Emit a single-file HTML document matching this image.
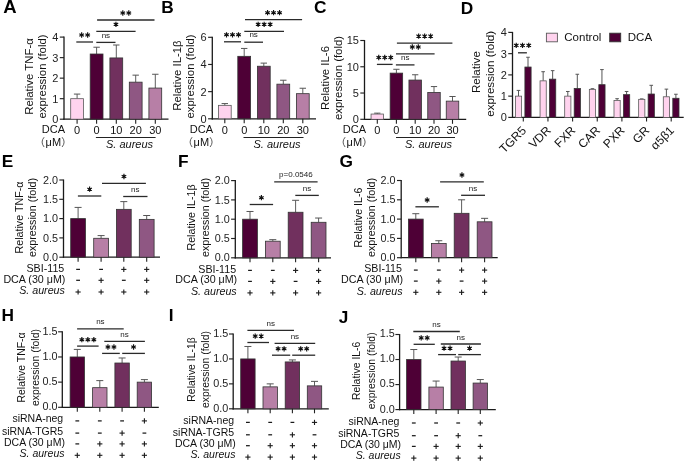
<!DOCTYPE html>
<html><head><meta charset="utf-8"><style>
html,body{margin:0;padding:0;background:#fff;width:685px;height:463px;overflow:hidden}
svg{display:block;font-family:"Liberation Sans",sans-serif;will-change:transform}
</style></head><body>
<svg width="685" height="463" viewBox="0 0 685 463">
<rect width="685" height="463" fill="#fff"/>
<text x="3.2" y="12.9" font-size="18.5" text-anchor="start" font-weight="bold" font-style="normal" fill="#000" >A</text>
<line x1="64" y1="36.6" x2="64" y2="119.8" stroke="#1a1a1a" stroke-width="1.3"/>
<line x1="63.4" y1="119.2" x2="168.5" y2="119.2" stroke="#1a1a1a" stroke-width="1.3"/>
<line x1="59.8" y1="119.2" x2="64" y2="119.2" stroke="#222" stroke-width="1.15"/>
<text x="58.4" y="123.15" font-size="11" text-anchor="end" font-weight="normal" font-style="normal" fill="#222" >0</text>
<line x1="59.8" y1="98.68" x2="64" y2="98.68" stroke="#222" stroke-width="1.15"/>
<text x="58.4" y="102.63" font-size="11" text-anchor="end" font-weight="normal" font-style="normal" fill="#222" >1</text>
<line x1="59.8" y1="78.15" x2="64" y2="78.15" stroke="#222" stroke-width="1.15"/>
<text x="58.4" y="82.1" font-size="11" text-anchor="end" font-weight="normal" font-style="normal" fill="#222" >2</text>
<line x1="59.8" y1="57.63" x2="64" y2="57.63" stroke="#222" stroke-width="1.15"/>
<text x="58.4" y="61.58" font-size="11" text-anchor="end" font-weight="normal" font-style="normal" fill="#222" >3</text>
<line x1="59.8" y1="37.1" x2="64" y2="37.1" stroke="#222" stroke-width="1.15"/>
<text x="58.4" y="41.05" font-size="11" text-anchor="end" font-weight="normal" font-style="normal" fill="#222" >4</text>
<line x1="77.1" y1="98.68" x2="77.1" y2="94.08" stroke="#555" stroke-width="0.95"/>
<line x1="73.9" y1="94.08" x2="80.3" y2="94.08" stroke="#555" stroke-width="1.0"/>
<rect x="70.7" y="98.68" width="12.8" height="20.52" fill="#FFD3EE" stroke="#5a5a5a" stroke-width="0.8"/>
<line x1="77.1" y1="119.2" x2="77.1" y2="123.7" stroke="#222" stroke-width="1.1"/>
<line x1="96.6" y1="54.01" x2="96.6" y2="47.22" stroke="#555" stroke-width="0.95"/>
<line x1="93.4" y1="47.22" x2="99.8" y2="47.22" stroke="#555" stroke-width="1.0"/>
<rect x="90.2" y="54.01" width="12.8" height="65.19" fill="#4E0036" stroke="#333" stroke-width="0.8"/>
<line x1="96.6" y1="119.2" x2="96.6" y2="123.7" stroke="#222" stroke-width="1.1"/>
<line x1="116.3" y1="57.93" x2="116.3" y2="45" stroke="#555" stroke-width="0.95"/>
<line x1="113.1" y1="45" x2="119.5" y2="45" stroke="#555" stroke-width="1.0"/>
<rect x="109.9" y="57.93" width="12.8" height="61.27" fill="#71305E" stroke="#333" stroke-width="0.8"/>
<line x1="116.3" y1="119.2" x2="116.3" y2="123.7" stroke="#222" stroke-width="1.1"/>
<line x1="135.7" y1="82.15" x2="135.7" y2="75.15" stroke="#555" stroke-width="0.95"/>
<line x1="132.5" y1="75.15" x2="138.9" y2="75.15" stroke="#555" stroke-width="1.0"/>
<rect x="129.3" y="82.15" width="12.8" height="37.05" fill="#8F5783" stroke="#333" stroke-width="0.8"/>
<line x1="135.7" y1="119.2" x2="135.7" y2="123.7" stroke="#222" stroke-width="1.1"/>
<line x1="155.3" y1="88.06" x2="155.3" y2="74.25" stroke="#555" stroke-width="0.95"/>
<line x1="152.1" y1="74.25" x2="158.5" y2="74.25" stroke="#555" stroke-width="1.0"/>
<rect x="148.9" y="88.06" width="12.8" height="31.14" fill="#B77FA6" stroke="#333" stroke-width="0.8"/>
<line x1="155.3" y1="119.2" x2="155.3" y2="123.7" stroke="#222" stroke-width="1.1"/>
<text transform="translate(32.6,76.5) rotate(-90)" x="0" y="0" font-size="11.4" text-anchor="middle" fill="#111">Relative TNF-α</text>
<text transform="translate(46.4,76.5) rotate(-90)" x="0" y="0" font-size="11.4" text-anchor="middle" fill="#111">expression (fold)</text>
<text x="65" y="133.3" font-size="11" text-anchor="end" font-weight="normal" font-style="normal" fill="#111" >DCA</text>
<text x="77.1" y="134" font-size="11" text-anchor="middle" font-weight="normal" font-style="normal" fill="#111" >0</text>
<text x="96.6" y="134" font-size="11" text-anchor="middle" font-weight="normal" font-style="normal" fill="#111" >0</text>
<text x="116.3" y="134" font-size="11" text-anchor="middle" font-weight="normal" font-style="normal" fill="#111" >10</text>
<text x="135.7" y="134" font-size="11" text-anchor="middle" font-weight="normal" font-style="normal" fill="#111" >20</text>
<text x="155.3" y="134" font-size="11" text-anchor="middle" font-weight="normal" font-style="normal" fill="#111" >30</text>
<line x1="95.9" y1="137.5" x2="155.6" y2="137.5" stroke="#222" stroke-width="1.1"/>
<text x="129.5" y="147.6" font-size="11" text-anchor="middle" font-weight="normal" font-style="italic" fill="#111" >S. aureus</text>
<path d="M44.1,137.2 Q40.1,142 44.1,147" fill="none" stroke="#333" stroke-width="0.8"/>
<path d="M62.1,137.2 Q66.1,142 62.1,147" fill="none" stroke="#333" stroke-width="0.8"/>
<text x="45.6" y="146" font-size="11" text-anchor="start" font-weight="normal" font-style="normal" fill="#111" >μM</text>
<line x1="76.3" y1="42" x2="93" y2="42" stroke="#2a2a2a" stroke-width="1.3"/>
<path d="M81.65,32.35V37.65M79.36,33.67L83.94,36.33M79.36,36.33L83.94,33.67" stroke="#111" stroke-width="1.15" fill="none"/>
<circle cx="81.65" cy="35" r="1.2" fill="#111"/>
<path d="M87.65,32.35V37.65M85.36,33.67L89.94,36.33M85.36,36.33L89.94,33.67" stroke="#111" stroke-width="1.15" fill="none"/>
<circle cx="87.65" cy="35" r="1.2" fill="#111"/>
<line x1="96.3" y1="42.4" x2="115.5" y2="42.4" stroke="#2a2a2a" stroke-width="1.3"/>
<text x="105.9" y="37.5" font-size="8.0" text-anchor="middle" font-weight="normal" font-style="normal" fill="#222" >ns</text>
<line x1="96.3" y1="31.3" x2="135.6" y2="31.3" stroke="#2a2a2a" stroke-width="1.3"/>
<path d="M115.95,21.65V26.95M113.66,22.98L118.24,25.62M113.66,25.62L118.24,22.98" stroke="#111" stroke-width="1.15" fill="none"/>
<circle cx="115.95" cy="24.3" r="1.2" fill="#111"/>
<line x1="97.1" y1="20" x2="154.5" y2="20" stroke="#2a2a2a" stroke-width="1.3"/>
<path d="M122.8,10.35V15.65M120.51,11.68L125.09,14.32M120.51,14.32L125.09,11.68" stroke="#111" stroke-width="1.15" fill="none"/>
<circle cx="122.8" cy="13" r="1.2" fill="#111"/>
<path d="M128.8,10.35V15.65M126.51,11.68L131.09,14.32M126.51,14.32L131.09,11.68" stroke="#111" stroke-width="1.15" fill="none"/>
<circle cx="128.8" cy="13" r="1.2" fill="#111"/>
<text x="161.2" y="12.9" font-size="17.3" text-anchor="start" font-weight="bold" font-style="normal" fill="#000" >B</text>
<line x1="212.3" y1="36.8" x2="212.3" y2="119.4" stroke="#1a1a1a" stroke-width="1.3"/>
<line x1="211.7" y1="118.8" x2="316" y2="118.8" stroke="#1a1a1a" stroke-width="1.3"/>
<line x1="208.1" y1="118.8" x2="212.3" y2="118.8" stroke="#222" stroke-width="1.15"/>
<text x="206.7" y="122.75" font-size="11" text-anchor="end" font-weight="normal" font-style="normal" fill="#222" >0</text>
<line x1="208.1" y1="91.63" x2="212.3" y2="91.63" stroke="#222" stroke-width="1.15"/>
<text x="206.7" y="95.58" font-size="11" text-anchor="end" font-weight="normal" font-style="normal" fill="#222" >2</text>
<line x1="208.1" y1="64.47" x2="212.3" y2="64.47" stroke="#222" stroke-width="1.15"/>
<text x="206.7" y="68.42" font-size="11" text-anchor="end" font-weight="normal" font-style="normal" fill="#222" >4</text>
<line x1="208.1" y1="37.3" x2="212.3" y2="37.3" stroke="#222" stroke-width="1.15"/>
<text x="206.7" y="41.25" font-size="11" text-anchor="end" font-weight="normal" font-style="normal" fill="#222" >6</text>
<line x1="224.8" y1="105.35" x2="224.8" y2="103.59" stroke="#555" stroke-width="0.95"/>
<line x1="221.6" y1="103.59" x2="228" y2="103.59" stroke="#555" stroke-width="1.0"/>
<rect x="218.4" y="105.35" width="12.8" height="13.45" fill="#FFD3EE" stroke="#5a5a5a" stroke-width="0.8"/>
<line x1="224.8" y1="118.8" x2="224.8" y2="123.3" stroke="#222" stroke-width="1.1"/>
<line x1="244.2" y1="56.32" x2="244.2" y2="48.44" stroke="#555" stroke-width="0.95"/>
<line x1="241" y1="48.44" x2="247.4" y2="48.44" stroke="#555" stroke-width="1.0"/>
<rect x="237.8" y="56.32" width="12.8" height="62.48" fill="#4E0036" stroke="#333" stroke-width="0.8"/>
<line x1="244.2" y1="118.8" x2="244.2" y2="123.3" stroke="#222" stroke-width="1.1"/>
<line x1="263.8" y1="66.23" x2="263.8" y2="63.11" stroke="#555" stroke-width="0.95"/>
<line x1="260.6" y1="63.11" x2="267" y2="63.11" stroke="#555" stroke-width="1.0"/>
<rect x="257.4" y="66.23" width="12.8" height="52.57" fill="#71305E" stroke="#333" stroke-width="0.8"/>
<line x1="263.8" y1="118.8" x2="263.8" y2="123.3" stroke="#222" stroke-width="1.1"/>
<line x1="283.3" y1="84.16" x2="283.3" y2="80.22" stroke="#555" stroke-width="0.95"/>
<line x1="280.1" y1="80.22" x2="286.5" y2="80.22" stroke="#555" stroke-width="1.0"/>
<rect x="276.9" y="84.16" width="12.8" height="34.64" fill="#8F5783" stroke="#333" stroke-width="0.8"/>
<line x1="283.3" y1="118.8" x2="283.3" y2="123.3" stroke="#222" stroke-width="1.1"/>
<line x1="302.8" y1="93.67" x2="302.8" y2="88.24" stroke="#555" stroke-width="0.95"/>
<line x1="299.6" y1="88.24" x2="306" y2="88.24" stroke="#555" stroke-width="1.0"/>
<rect x="296.4" y="93.67" width="12.8" height="25.13" fill="#B77FA6" stroke="#333" stroke-width="0.8"/>
<line x1="302.8" y1="118.8" x2="302.8" y2="123.3" stroke="#222" stroke-width="1.1"/>
<text transform="translate(180.5,75.6) rotate(-90)" x="0" y="0" font-size="11.4" text-anchor="middle" fill="#111">Relative IL-1β</text>
<text transform="translate(194.3,76.5) rotate(-90)" x="0" y="0" font-size="11.4" text-anchor="middle" fill="#111">expression (fold)</text>
<text x="213" y="133.3" font-size="11" text-anchor="end" font-weight="normal" font-style="normal" fill="#111" >DCA</text>
<text x="224.8" y="134" font-size="11" text-anchor="middle" font-weight="normal" font-style="normal" fill="#111" >0</text>
<text x="244.2" y="134" font-size="11" text-anchor="middle" font-weight="normal" font-style="normal" fill="#111" >0</text>
<text x="263.8" y="134" font-size="11" text-anchor="middle" font-weight="normal" font-style="normal" fill="#111" >10</text>
<text x="283.3" y="134" font-size="11" text-anchor="middle" font-weight="normal" font-style="normal" fill="#111" >20</text>
<text x="302.8" y="134" font-size="11" text-anchor="middle" font-weight="normal" font-style="normal" fill="#111" >30</text>
<line x1="243.5" y1="137.5" x2="303.5" y2="137.5" stroke="#222" stroke-width="1.1"/>
<text x="277" y="147.6" font-size="11" text-anchor="middle" font-weight="normal" font-style="italic" fill="#111" >S. aureus</text>
<path d="M192.1,137.2 Q188.1,142 192.1,147" fill="none" stroke="#333" stroke-width="0.8"/>
<path d="M210.1,137.2 Q214.1,142 210.1,147" fill="none" stroke="#333" stroke-width="0.8"/>
<text x="193.6" y="146" font-size="11" text-anchor="start" font-weight="normal" font-style="normal" fill="#111" >μM</text>
<line x1="224" y1="41.8" x2="241" y2="41.8" stroke="#2a2a2a" stroke-width="1.3"/>
<path d="M226.5,32.15V37.45M224.21,33.47L228.79,36.12M224.21,36.12L228.79,33.47" stroke="#111" stroke-width="1.15" fill="none"/>
<circle cx="226.5" cy="34.8" r="1.2" fill="#111"/>
<path d="M232.5,32.15V37.45M230.21,33.47L234.79,36.12M230.21,36.12L234.79,33.47" stroke="#111" stroke-width="1.15" fill="none"/>
<circle cx="232.5" cy="34.8" r="1.2" fill="#111"/>
<path d="M238.5,32.15V37.45M236.21,33.47L240.79,36.12M236.21,36.12L240.79,33.47" stroke="#111" stroke-width="1.15" fill="none"/>
<circle cx="238.5" cy="34.8" r="1.2" fill="#111"/>
<line x1="244.3" y1="42.2" x2="263" y2="42.2" stroke="#2a2a2a" stroke-width="1.3"/>
<text x="253.65" y="37.3" font-size="8.0" text-anchor="middle" font-weight="normal" font-style="normal" fill="#222" >ns</text>
<line x1="244.3" y1="31.3" x2="284" y2="31.3" stroke="#2a2a2a" stroke-width="1.3"/>
<path d="M258.15,21.65V26.95M255.86,22.98L260.44,25.62M255.86,25.62L260.44,22.98" stroke="#111" stroke-width="1.15" fill="none"/>
<circle cx="258.15" cy="24.3" r="1.2" fill="#111"/>
<path d="M264.15,21.65V26.95M261.86,22.98L266.44,25.62M261.86,25.62L266.44,22.98" stroke="#111" stroke-width="1.15" fill="none"/>
<circle cx="264.15" cy="24.3" r="1.2" fill="#111"/>
<path d="M270.15,21.65V26.95M267.86,22.98L272.44,25.62M267.86,25.62L272.44,22.98" stroke="#111" stroke-width="1.15" fill="none"/>
<circle cx="270.15" cy="24.3" r="1.2" fill="#111"/>
<line x1="245" y1="19.7" x2="302.1" y2="19.7" stroke="#2a2a2a" stroke-width="1.3"/>
<path d="M267.55,10.05V15.35M265.26,11.38L269.84,14.02M265.26,14.02L269.84,11.38" stroke="#111" stroke-width="1.15" fill="none"/>
<circle cx="267.55" cy="12.7" r="1.2" fill="#111"/>
<path d="M273.55,10.05V15.35M271.26,11.38L275.84,14.02M271.26,14.02L275.84,11.38" stroke="#111" stroke-width="1.15" fill="none"/>
<circle cx="273.55" cy="12.7" r="1.2" fill="#111"/>
<path d="M279.55,10.05V15.35M277.26,11.38L281.84,14.02M277.26,14.02L281.84,11.38" stroke="#111" stroke-width="1.15" fill="none"/>
<circle cx="279.55" cy="12.7" r="1.2" fill="#111"/>
<text x="313.9" y="13.3" font-size="17.3" text-anchor="start" font-weight="bold" font-style="normal" fill="#000" >C</text>
<line x1="364.5" y1="40" x2="364.5" y2="119.9" stroke="#1a1a1a" stroke-width="1.3"/>
<line x1="363.9" y1="119.3" x2="466.2" y2="119.3" stroke="#1a1a1a" stroke-width="1.3"/>
<line x1="360.3" y1="119.3" x2="364.5" y2="119.3" stroke="#222" stroke-width="1.15"/>
<text x="358.9" y="123.25" font-size="11" text-anchor="end" font-weight="normal" font-style="normal" fill="#222" >0</text>
<line x1="360.3" y1="93.03" x2="364.5" y2="93.03" stroke="#222" stroke-width="1.15"/>
<text x="358.9" y="96.98" font-size="11" text-anchor="end" font-weight="normal" font-style="normal" fill="#222" >5</text>
<line x1="360.3" y1="66.77" x2="364.5" y2="66.77" stroke="#222" stroke-width="1.15"/>
<text x="358.9" y="70.72" font-size="11" text-anchor="end" font-weight="normal" font-style="normal" fill="#222" >10</text>
<line x1="360.3" y1="40.5" x2="364.5" y2="40.5" stroke="#222" stroke-width="1.15"/>
<text x="358.9" y="44.45" font-size="11" text-anchor="end" font-weight="normal" font-style="normal" fill="#222" >15</text>
<line x1="377.3" y1="114.05" x2="377.3" y2="113.15" stroke="#555" stroke-width="0.95"/>
<line x1="374.18" y1="113.15" x2="380.43" y2="113.15" stroke="#555" stroke-width="1.0"/>
<rect x="371.05" y="114.05" width="12.5" height="5.25" fill="#FFD3EE" stroke="#5a5a5a" stroke-width="0.8"/>
<line x1="377.3" y1="119.3" x2="377.3" y2="123.8" stroke="#222" stroke-width="1.1"/>
<line x1="396.4" y1="73.12" x2="396.4" y2="69.29" stroke="#555" stroke-width="0.95"/>
<line x1="393.27" y1="69.29" x2="399.52" y2="69.29" stroke="#555" stroke-width="1.0"/>
<rect x="390.15" y="73.12" width="12.5" height="46.18" fill="#4E0036" stroke="#333" stroke-width="0.8"/>
<line x1="396.4" y1="119.3" x2="396.4" y2="123.8" stroke="#222" stroke-width="1.1"/>
<line x1="415.2" y1="80.06" x2="415.2" y2="74.75" stroke="#555" stroke-width="0.95"/>
<line x1="412.07" y1="74.75" x2="418.32" y2="74.75" stroke="#555" stroke-width="1.0"/>
<rect x="408.95" y="80.06" width="12.5" height="39.24" fill="#71305E" stroke="#333" stroke-width="0.8"/>
<line x1="415.2" y1="119.3" x2="415.2" y2="123.8" stroke="#222" stroke-width="1.1"/>
<line x1="434" y1="92.4" x2="434" y2="86.57" stroke="#555" stroke-width="0.95"/>
<line x1="430.88" y1="86.57" x2="437.12" y2="86.57" stroke="#555" stroke-width="1.0"/>
<rect x="427.75" y="92.4" width="12.5" height="26.9" fill="#8F5783" stroke="#333" stroke-width="0.8"/>
<line x1="434" y1="119.3" x2="434" y2="123.8" stroke="#222" stroke-width="1.1"/>
<line x1="452.5" y1="101.12" x2="452.5" y2="96.5" stroke="#555" stroke-width="0.95"/>
<line x1="449.38" y1="96.5" x2="455.62" y2="96.5" stroke="#555" stroke-width="1.0"/>
<rect x="446.25" y="101.12" width="12.5" height="18.18" fill="#B77FA6" stroke="#333" stroke-width="0.8"/>
<line x1="452.5" y1="119.3" x2="452.5" y2="123.8" stroke="#222" stroke-width="1.1"/>
<text transform="translate(328.8,78) rotate(-90)" x="0" y="0" font-size="11.4" text-anchor="middle" fill="#111">Relative IL-6</text>
<text transform="translate(341.7,78) rotate(-90)" x="0" y="0" font-size="11.4" text-anchor="middle" fill="#111">expression (fold)</text>
<text x="366" y="133.3" font-size="11" text-anchor="end" font-weight="normal" font-style="normal" fill="#111" >DCA</text>
<text x="377.3" y="134" font-size="11" text-anchor="middle" font-weight="normal" font-style="normal" fill="#111" >0</text>
<text x="396.4" y="134" font-size="11" text-anchor="middle" font-weight="normal" font-style="normal" fill="#111" >0</text>
<text x="415.2" y="134" font-size="11" text-anchor="middle" font-weight="normal" font-style="normal" fill="#111" >10</text>
<text x="434" y="134" font-size="11" text-anchor="middle" font-weight="normal" font-style="normal" fill="#111" >20</text>
<text x="452.5" y="134" font-size="11" text-anchor="middle" font-weight="normal" font-style="normal" fill="#111" >30</text>
<line x1="396" y1="137.5" x2="455" y2="137.5" stroke="#222" stroke-width="1.1"/>
<text x="428.5" y="147.6" font-size="11" text-anchor="middle" font-weight="normal" font-style="italic" fill="#111" >S. aureus</text>
<path d="M345.1,137.2 Q341.1,142 345.1,147" fill="none" stroke="#333" stroke-width="0.8"/>
<path d="M363.1,137.2 Q367.1,142 363.1,147" fill="none" stroke="#333" stroke-width="0.8"/>
<text x="346.6" y="146" font-size="11" text-anchor="start" font-weight="normal" font-style="normal" fill="#111" >μM</text>
<line x1="376.9" y1="64.4" x2="392.6" y2="64.4" stroke="#2a2a2a" stroke-width="1.3"/>
<path d="M378.75,54.85V60.15M376.46,56.17L381.04,58.83M376.46,58.83L381.04,56.17" stroke="#111" stroke-width="1.15" fill="none"/>
<circle cx="378.75" cy="57.5" r="1.2" fill="#111"/>
<path d="M384.75,54.85V60.15M382.46,56.17L387.04,58.83M382.46,58.83L387.04,56.17" stroke="#111" stroke-width="1.15" fill="none"/>
<circle cx="384.75" cy="57.5" r="1.2" fill="#111"/>
<path d="M390.75,54.85V60.15M388.46,56.17L393.04,58.83M388.46,58.83L393.04,56.17" stroke="#111" stroke-width="1.15" fill="none"/>
<circle cx="390.75" cy="57.5" r="1.2" fill="#111"/>
<line x1="395.9" y1="64.9" x2="414.5" y2="64.9" stroke="#2a2a2a" stroke-width="1.3"/>
<text x="405.2" y="60" font-size="8.0" text-anchor="middle" font-weight="normal" font-style="normal" fill="#222" >ns</text>
<line x1="396" y1="53.8" x2="434.6" y2="53.8" stroke="#2a2a2a" stroke-width="1.3"/>
<path d="M412.3,44.35V49.65M410.01,45.67L414.59,48.33M410.01,48.33L414.59,45.67" stroke="#111" stroke-width="1.15" fill="none"/>
<circle cx="412.3" cy="47" r="1.2" fill="#111"/>
<path d="M418.3,44.35V49.65M416.01,45.67L420.59,48.33M416.01,48.33L420.59,45.67" stroke="#111" stroke-width="1.15" fill="none"/>
<circle cx="418.3" cy="47" r="1.2" fill="#111"/>
<line x1="396.9" y1="43.2" x2="452.4" y2="43.2" stroke="#2a2a2a" stroke-width="1.3"/>
<path d="M418.65,33.45V38.75M416.36,34.77L420.94,37.43M416.36,37.43L420.94,34.77" stroke="#111" stroke-width="1.15" fill="none"/>
<circle cx="418.65" cy="36.1" r="1.2" fill="#111"/>
<path d="M424.65,33.45V38.75M422.36,34.77L426.94,37.43M422.36,37.43L426.94,34.77" stroke="#111" stroke-width="1.15" fill="none"/>
<circle cx="424.65" cy="36.1" r="1.2" fill="#111"/>
<path d="M430.65,33.45V38.75M428.36,34.77L432.94,37.43M428.36,37.43L432.94,34.77" stroke="#111" stroke-width="1.15" fill="none"/>
<circle cx="430.65" cy="36.1" r="1.2" fill="#111"/>
<text x="460.8" y="13.8" font-size="17.3" text-anchor="start" font-weight="bold" font-style="normal" fill="#000" >D</text>
<line x1="512.5" y1="31.9" x2="512.5" y2="118" stroke="#1a1a1a" stroke-width="1.3"/>
<line x1="511.9" y1="117.4" x2="683.7" y2="117.4" stroke="#1a1a1a" stroke-width="1.3"/>
<line x1="508.3" y1="117.4" x2="512.5" y2="117.4" stroke="#222" stroke-width="1.15"/>
<text x="506.9" y="121.35" font-size="11" text-anchor="end" font-weight="normal" font-style="normal" fill="#222" >0</text>
<line x1="508.3" y1="96.15" x2="512.5" y2="96.15" stroke="#222" stroke-width="1.15"/>
<text x="506.9" y="100.1" font-size="11" text-anchor="end" font-weight="normal" font-style="normal" fill="#222" >1</text>
<line x1="508.3" y1="74.9" x2="512.5" y2="74.9" stroke="#222" stroke-width="1.15"/>
<text x="506.9" y="78.85" font-size="11" text-anchor="end" font-weight="normal" font-style="normal" fill="#222" >2</text>
<line x1="508.3" y1="53.65" x2="512.5" y2="53.65" stroke="#222" stroke-width="1.15"/>
<text x="506.9" y="57.6" font-size="11" text-anchor="end" font-weight="normal" font-style="normal" fill="#222" >3</text>
<line x1="508.3" y1="32.4" x2="512.5" y2="32.4" stroke="#222" stroke-width="1.15"/>
<text x="506.9" y="36.35" font-size="11" text-anchor="end" font-weight="normal" font-style="normal" fill="#222" >4</text>
<line x1="518.5" y1="96.15" x2="518.5" y2="90.41" stroke="#555" stroke-width="1.0"/>
<line x1="516.7" y1="90.41" x2="520.3" y2="90.41" stroke="#555" stroke-width="1.0"/>
<rect x="515.4" y="96.15" width="6.2" height="21.25" fill="#FFD3EE" stroke="#5a5a5a" stroke-width="0.8"/>
<line x1="528" y1="67.04" x2="528" y2="57.26" stroke="#555" stroke-width="1.0"/>
<line x1="526.2" y1="57.26" x2="529.8" y2="57.26" stroke="#555" stroke-width="1.0"/>
<rect x="524.9" y="67.04" width="6.2" height="50.36" fill="#4E0036" stroke="#333" stroke-width="0.8"/>
<line x1="523.3" y1="117.4" x2="523.3" y2="121.5" stroke="#222" stroke-width="1.1"/>
<line x1="543.15" y1="80.85" x2="543.15" y2="71.71" stroke="#555" stroke-width="1.0"/>
<line x1="541.35" y1="71.71" x2="544.95" y2="71.71" stroke="#555" stroke-width="1.0"/>
<rect x="540.05" y="80.85" width="6.2" height="36.55" fill="#FFD3EE" stroke="#5a5a5a" stroke-width="0.8"/>
<line x1="552.65" y1="79.15" x2="552.65" y2="70.65" stroke="#555" stroke-width="1.0"/>
<line x1="550.85" y1="70.65" x2="554.45" y2="70.65" stroke="#555" stroke-width="1.0"/>
<rect x="549.55" y="79.15" width="6.2" height="38.25" fill="#4E0036" stroke="#333" stroke-width="0.8"/>
<line x1="547.95" y1="117.4" x2="547.95" y2="121.5" stroke="#222" stroke-width="1.1"/>
<line x1="567.8" y1="96.15" x2="567.8" y2="91.48" stroke="#555" stroke-width="1.0"/>
<line x1="566" y1="91.48" x2="569.6" y2="91.48" stroke="#555" stroke-width="1.0"/>
<rect x="564.7" y="96.15" width="6.2" height="21.25" fill="#FFD3EE" stroke="#5a5a5a" stroke-width="0.8"/>
<line x1="577.3" y1="88.5" x2="577.3" y2="74.26" stroke="#555" stroke-width="1.0"/>
<line x1="575.5" y1="74.26" x2="579.1" y2="74.26" stroke="#555" stroke-width="1.0"/>
<rect x="574.2" y="88.5" width="6.2" height="28.9" fill="#4E0036" stroke="#333" stroke-width="0.8"/>
<line x1="572.6" y1="117.4" x2="572.6" y2="121.5" stroke="#222" stroke-width="1.1"/>
<line x1="592.45" y1="89.35" x2="592.45" y2="88.71" stroke="#555" stroke-width="1.0"/>
<line x1="590.65" y1="88.71" x2="594.25" y2="88.71" stroke="#555" stroke-width="1.0"/>
<rect x="589.35" y="89.35" width="6.2" height="28.05" fill="#FFD3EE" stroke="#5a5a5a" stroke-width="0.8"/>
<line x1="601.95" y1="84.68" x2="601.95" y2="69.59" stroke="#555" stroke-width="1.0"/>
<line x1="600.15" y1="69.59" x2="603.75" y2="69.59" stroke="#555" stroke-width="1.0"/>
<rect x="598.85" y="84.68" width="6.2" height="32.72" fill="#4E0036" stroke="#333" stroke-width="0.8"/>
<line x1="597.25" y1="117.4" x2="597.25" y2="121.5" stroke="#222" stroke-width="1.1"/>
<line x1="617.1" y1="100.4" x2="617.1" y2="98.7" stroke="#555" stroke-width="1.0"/>
<line x1="615.3" y1="98.7" x2="618.9" y2="98.7" stroke="#555" stroke-width="1.0"/>
<rect x="614" y="100.4" width="6.2" height="17" fill="#FFD3EE" stroke="#5a5a5a" stroke-width="0.8"/>
<line x1="626.6" y1="94.66" x2="626.6" y2="91.48" stroke="#555" stroke-width="1.0"/>
<line x1="624.8" y1="91.48" x2="628.4" y2="91.48" stroke="#555" stroke-width="1.0"/>
<rect x="623.5" y="94.66" width="6.2" height="22.74" fill="#4E0036" stroke="#333" stroke-width="0.8"/>
<line x1="621.9" y1="117.4" x2="621.9" y2="121.5" stroke="#222" stroke-width="1.1"/>
<line x1="641.75" y1="99.34" x2="641.75" y2="98.91" stroke="#555" stroke-width="1.0"/>
<line x1="639.95" y1="98.91" x2="643.55" y2="98.91" stroke="#555" stroke-width="1.0"/>
<rect x="638.65" y="99.34" width="6.2" height="18.06" fill="#FFD3EE" stroke="#5a5a5a" stroke-width="0.8"/>
<line x1="651.25" y1="94.03" x2="651.25" y2="85.31" stroke="#555" stroke-width="1.0"/>
<line x1="649.45" y1="85.31" x2="653.05" y2="85.31" stroke="#555" stroke-width="1.0"/>
<rect x="648.15" y="94.03" width="6.2" height="23.38" fill="#4E0036" stroke="#333" stroke-width="0.8"/>
<line x1="646.55" y1="117.4" x2="646.55" y2="121.5" stroke="#222" stroke-width="1.1"/>
<line x1="666.4" y1="96.79" x2="666.4" y2="89.14" stroke="#555" stroke-width="1.0"/>
<line x1="664.6" y1="89.14" x2="668.2" y2="89.14" stroke="#555" stroke-width="1.0"/>
<rect x="663.3" y="96.79" width="6.2" height="20.61" fill="#FFD3EE" stroke="#5a5a5a" stroke-width="0.8"/>
<line x1="675.9" y1="98.28" x2="675.9" y2="94.24" stroke="#555" stroke-width="1.0"/>
<line x1="674.1" y1="94.24" x2="677.7" y2="94.24" stroke="#555" stroke-width="1.0"/>
<rect x="672.8" y="98.28" width="6.2" height="19.12" fill="#4E0036" stroke="#333" stroke-width="0.8"/>
<line x1="671.2" y1="117.4" x2="671.2" y2="121.5" stroke="#222" stroke-width="1.1"/>
<text transform="translate(480.2,72.1) rotate(-90)" x="0" y="0" font-size="11.6" text-anchor="middle" fill="#111">Relative</text>
<text transform="translate(494.3,73.8) rotate(-90)" x="0" y="0" font-size="11.6" text-anchor="middle" fill="#111">expression (fold)</text>
<text transform="translate(526.9,131.2) rotate(-45)" x="0" y="0" font-size="12" text-anchor="end" fill="#111">TGR5</text>
<text transform="translate(551.55,131.2) rotate(-45)" x="0" y="0" font-size="12" text-anchor="end" fill="#111">VDR</text>
<text transform="translate(576.2,131.2) rotate(-45)" x="0" y="0" font-size="12" text-anchor="end" fill="#111">FXR</text>
<text transform="translate(600.85,131.2) rotate(-45)" x="0" y="0" font-size="12" text-anchor="end" fill="#111">CAR</text>
<text transform="translate(625.5,131.2) rotate(-45)" x="0" y="0" font-size="12" text-anchor="end" fill="#111">PXR</text>
<text transform="translate(650.15,131.2) rotate(-45)" x="0" y="0" font-size="12" text-anchor="end" fill="#111">GR</text>
<text transform="translate(674.8,131.2) rotate(-45)" x="0" y="0" font-size="12" text-anchor="end" fill="#111">α5β1</text>
<rect x="546.4" y="33.2" width="11" height="8.6" fill="#FFD3EE" stroke="#5a5a5a" stroke-width="0.9"/>
<text x="564.3" y="41.2" font-size="11.5" text-anchor="start" font-weight="normal" font-style="normal" fill="#111" >Control</text>
<rect x="609.7" y="33.2" width="11" height="8.6" fill="#4E0036" stroke="#333" stroke-width="0.9"/>
<text x="627.8" y="41.2" font-size="11.5" text-anchor="start" font-weight="normal" font-style="normal" fill="#111" >DCA</text>
<line x1="518" y1="52.8" x2="526.9" y2="52.8" stroke="#2a2a2a" stroke-width="1.3"/>
<path d="M516.25,42.75V48.05M513.96,44.07L518.54,46.73M513.96,46.73L518.54,44.07" stroke="#111" stroke-width="1.15" fill="none"/>
<circle cx="516.25" cy="45.4" r="1.2" fill="#111"/>
<path d="M522.5,42.75V48.05M520.21,44.07L524.79,46.73M520.21,46.73L524.79,44.07" stroke="#111" stroke-width="1.15" fill="none"/>
<circle cx="522.5" cy="45.4" r="1.2" fill="#111"/>
<path d="M528.75,42.75V48.05M526.46,44.07L531.04,46.73M526.46,46.73L531.04,44.07" stroke="#111" stroke-width="1.15" fill="none"/>
<circle cx="528.75" cy="45.4" r="1.2" fill="#111"/>
<line x1="63.5" y1="179.5" x2="63.5" y2="257.8" stroke="#1a1a1a" stroke-width="1.3"/>
<line x1="62.9" y1="257.2" x2="160" y2="257.2" stroke="#1a1a1a" stroke-width="1.3"/>
<line x1="59.3" y1="257.2" x2="63.5" y2="257.2" stroke="#222" stroke-width="1.15"/>
<text x="57.9" y="260.8" font-size="10.8" text-anchor="end" font-weight="normal" font-style="normal" fill="#222" >0.0</text>
<line x1="59.3" y1="237.9" x2="63.5" y2="237.9" stroke="#222" stroke-width="1.15"/>
<text x="57.9" y="241.5" font-size="10.8" text-anchor="end" font-weight="normal" font-style="normal" fill="#222" >0.5</text>
<line x1="59.3" y1="218.6" x2="63.5" y2="218.6" stroke="#222" stroke-width="1.15"/>
<text x="57.9" y="222.2" font-size="10.8" text-anchor="end" font-weight="normal" font-style="normal" fill="#222" >1.0</text>
<line x1="59.3" y1="199.3" x2="63.5" y2="199.3" stroke="#222" stroke-width="1.15"/>
<text x="57.9" y="202.9" font-size="10.8" text-anchor="end" font-weight="normal" font-style="normal" fill="#222" >1.5</text>
<line x1="59.3" y1="180" x2="63.5" y2="180" stroke="#222" stroke-width="1.15"/>
<text x="57.9" y="183.6" font-size="10.8" text-anchor="end" font-weight="normal" font-style="normal" fill="#222" >2.0</text>
<line x1="78.1" y1="218.6" x2="78.1" y2="207.41" stroke="#555" stroke-width="0.95"/>
<line x1="74.6" y1="207.41" x2="81.6" y2="207.41" stroke="#555" stroke-width="1.0"/>
<rect x="70.7" y="218.6" width="14.8" height="38.6" fill="#4E0036" stroke="#333" stroke-width="0.8"/>
<line x1="78.1" y1="257.2" x2="78.1" y2="261.7" stroke="#222" stroke-width="1.1"/>
<line x1="101.1" y1="238.29" x2="101.1" y2="235.58" stroke="#555" stroke-width="0.95"/>
<line x1="97.6" y1="235.58" x2="104.6" y2="235.58" stroke="#555" stroke-width="1.0"/>
<rect x="93.7" y="238.29" width="14.8" height="18.91" fill="#B77FA6" stroke="#333" stroke-width="0.8"/>
<line x1="101.1" y1="257.2" x2="101.1" y2="261.7" stroke="#222" stroke-width="1.1"/>
<line x1="123.8" y1="209.34" x2="123.8" y2="201.62" stroke="#555" stroke-width="0.95"/>
<line x1="120.3" y1="201.62" x2="127.3" y2="201.62" stroke="#555" stroke-width="1.0"/>
<rect x="116.4" y="209.34" width="14.8" height="47.86" fill="#71305E" stroke="#333" stroke-width="0.8"/>
<line x1="123.8" y1="257.2" x2="123.8" y2="261.7" stroke="#222" stroke-width="1.1"/>
<line x1="146.7" y1="219.37" x2="146.7" y2="215.51" stroke="#555" stroke-width="0.95"/>
<line x1="143.2" y1="215.51" x2="150.2" y2="215.51" stroke="#555" stroke-width="1.0"/>
<rect x="139.3" y="219.37" width="14.8" height="37.83" fill="#8F5783" stroke="#333" stroke-width="0.8"/>
<line x1="146.7" y1="257.2" x2="146.7" y2="261.7" stroke="#222" stroke-width="1.1"/>
<text x="1.8" y="166.6" font-size="17.3" text-anchor="start" font-weight="bold" font-style="normal" fill="#000" >E</text>
<text transform="translate(23.1,217.5) rotate(-90)" x="0" y="0" font-size="10.7" text-anchor="middle" fill="#111">Relative TNF-α</text>
<text transform="translate(36,217.5) rotate(-90)" x="0" y="0" font-size="10.7" text-anchor="middle" fill="#111">expression (fold)</text>
<text x="64.3" y="271.8" font-size="10.7" text-anchor="end" font-weight="normal" font-style="normal" fill="#111" >SBI-115</text>
<text x="65.4" y="282.6" font-size="10.7" text-anchor="end" font-weight="normal" font-style="normal" fill="#111" >DCA (30 μM)</text>
<text x="64.9" y="294.2" font-size="10.7" text-anchor="end" font-weight="normal" font-style="normal" fill="#111" ><tspan font-style="italic">S. aureus</tspan></text>
<line x1="76.2" y1="269.4" x2="80" y2="269.4" stroke="#1a1a1a" stroke-width="1.25"/>
<line x1="99.2" y1="269.4" x2="103" y2="269.4" stroke="#1a1a1a" stroke-width="1.25"/>
<line x1="121.2" y1="269.4" x2="126.4" y2="269.4" stroke="#1a1a1a" stroke-width="1.1"/>
<line x1="123.8" y1="266.8" x2="123.8" y2="272" stroke="#1a1a1a" stroke-width="1.1"/>
<line x1="144.1" y1="269.4" x2="149.3" y2="269.4" stroke="#1a1a1a" stroke-width="1.1"/>
<line x1="146.7" y1="266.8" x2="146.7" y2="272" stroke="#1a1a1a" stroke-width="1.1"/>
<line x1="76.2" y1="280.3" x2="80" y2="280.3" stroke="#1a1a1a" stroke-width="1.25"/>
<line x1="98.5" y1="280.3" x2="103.7" y2="280.3" stroke="#1a1a1a" stroke-width="1.1"/>
<line x1="101.1" y1="277.7" x2="101.1" y2="282.9" stroke="#1a1a1a" stroke-width="1.1"/>
<line x1="121.9" y1="280.3" x2="125.7" y2="280.3" stroke="#1a1a1a" stroke-width="1.25"/>
<line x1="144.1" y1="280.3" x2="149.3" y2="280.3" stroke="#1a1a1a" stroke-width="1.1"/>
<line x1="146.7" y1="277.7" x2="146.7" y2="282.9" stroke="#1a1a1a" stroke-width="1.1"/>
<line x1="75.5" y1="292" x2="80.7" y2="292" stroke="#1a1a1a" stroke-width="1.1"/>
<line x1="78.1" y1="289.4" x2="78.1" y2="294.6" stroke="#1a1a1a" stroke-width="1.1"/>
<line x1="98.5" y1="292" x2="103.7" y2="292" stroke="#1a1a1a" stroke-width="1.1"/>
<line x1="101.1" y1="289.4" x2="101.1" y2="294.6" stroke="#1a1a1a" stroke-width="1.1"/>
<line x1="121.2" y1="292" x2="126.4" y2="292" stroke="#1a1a1a" stroke-width="1.1"/>
<line x1="123.8" y1="289.4" x2="123.8" y2="294.6" stroke="#1a1a1a" stroke-width="1.1"/>
<line x1="144.1" y1="292" x2="149.3" y2="292" stroke="#1a1a1a" stroke-width="1.1"/>
<line x1="146.7" y1="289.4" x2="146.7" y2="294.6" stroke="#1a1a1a" stroke-width="1.1"/>
<line x1="77.9" y1="196" x2="101.3" y2="196" stroke="#2a2a2a" stroke-width="1.3"/>
<path d="M89.6,186.55V191.85M87.31,187.88L91.89,190.52M87.31,190.52L91.89,187.88" stroke="#111" stroke-width="1.15" fill="none"/>
<circle cx="89.6" cy="189.2" r="1.2" fill="#111"/>
<line x1="102" y1="183.3" x2="145.9" y2="183.3" stroke="#2a2a2a" stroke-width="1.3"/>
<path d="M123.95,173.85V179.15M121.66,175.18L126.24,177.82M121.66,177.82L126.24,175.18" stroke="#111" stroke-width="1.15" fill="none"/>
<circle cx="123.95" cy="176.5" r="1.2" fill="#111"/>
<line x1="123.2" y1="196.5" x2="147.5" y2="196.5" stroke="#2a2a2a" stroke-width="1.3"/>
<text x="135.35" y="191.8" font-size="8.0" text-anchor="middle" font-weight="normal" font-style="normal" fill="#222" >ns</text>
<line x1="235.3" y1="180.1" x2="235.3" y2="258.4" stroke="#1a1a1a" stroke-width="1.3"/>
<line x1="234.7" y1="257.8" x2="331" y2="257.8" stroke="#1a1a1a" stroke-width="1.3"/>
<line x1="231.1" y1="257.8" x2="235.3" y2="257.8" stroke="#222" stroke-width="1.15"/>
<text x="229.7" y="261.4" font-size="10.8" text-anchor="end" font-weight="normal" font-style="normal" fill="#222" >0.0</text>
<line x1="231.1" y1="238.5" x2="235.3" y2="238.5" stroke="#222" stroke-width="1.15"/>
<text x="229.7" y="242.1" font-size="10.8" text-anchor="end" font-weight="normal" font-style="normal" fill="#222" >0.5</text>
<line x1="231.1" y1="219.2" x2="235.3" y2="219.2" stroke="#222" stroke-width="1.15"/>
<text x="229.7" y="222.8" font-size="10.8" text-anchor="end" font-weight="normal" font-style="normal" fill="#222" >1.0</text>
<line x1="231.1" y1="199.9" x2="235.3" y2="199.9" stroke="#222" stroke-width="1.15"/>
<text x="229.7" y="203.5" font-size="10.8" text-anchor="end" font-weight="normal" font-style="normal" fill="#222" >1.5</text>
<line x1="231.1" y1="180.6" x2="235.3" y2="180.6" stroke="#222" stroke-width="1.15"/>
<text x="229.7" y="184.2" font-size="10.8" text-anchor="end" font-weight="normal" font-style="normal" fill="#222" >2.0</text>
<line x1="250" y1="219.2" x2="250" y2="211.48" stroke="#555" stroke-width="0.95"/>
<line x1="246.5" y1="211.48" x2="253.5" y2="211.48" stroke="#555" stroke-width="1.0"/>
<rect x="242.6" y="219.2" width="14.8" height="38.6" fill="#4E0036" stroke="#333" stroke-width="0.8"/>
<line x1="250" y1="257.8" x2="250" y2="262.3" stroke="#222" stroke-width="1.1"/>
<line x1="272.8" y1="241.2" x2="272.8" y2="239.66" stroke="#555" stroke-width="0.95"/>
<line x1="269.3" y1="239.66" x2="276.3" y2="239.66" stroke="#555" stroke-width="1.0"/>
<rect x="265.4" y="241.2" width="14.8" height="16.6" fill="#B77FA6" stroke="#333" stroke-width="0.8"/>
<line x1="272.8" y1="257.8" x2="272.8" y2="262.3" stroke="#222" stroke-width="1.1"/>
<line x1="295.6" y1="212.25" x2="295.6" y2="200.29" stroke="#555" stroke-width="0.95"/>
<line x1="292.1" y1="200.29" x2="299.1" y2="200.29" stroke="#555" stroke-width="1.0"/>
<rect x="288.2" y="212.25" width="14.8" height="45.55" fill="#71305E" stroke="#333" stroke-width="0.8"/>
<line x1="295.6" y1="257.8" x2="295.6" y2="262.3" stroke="#222" stroke-width="1.1"/>
<line x1="318.6" y1="222.29" x2="318.6" y2="218.04" stroke="#555" stroke-width="0.95"/>
<line x1="315.1" y1="218.04" x2="322.1" y2="218.04" stroke="#555" stroke-width="1.0"/>
<rect x="311.2" y="222.29" width="14.8" height="35.51" fill="#8F5783" stroke="#333" stroke-width="0.8"/>
<line x1="318.6" y1="257.8" x2="318.6" y2="262.3" stroke="#222" stroke-width="1.1"/>
<text x="177.9" y="166.6" font-size="17.3" text-anchor="start" font-weight="bold" font-style="normal" fill="#000" >F</text>
<text transform="translate(195.3,217.5) rotate(-90)" x="0" y="0" font-size="10.7" text-anchor="middle" fill="#111">Relative IL-1β</text>
<text transform="translate(208.5,217.5) rotate(-90)" x="0" y="0" font-size="10.7" text-anchor="middle" fill="#111">expression (fold)</text>
<text x="236.1" y="272.6" font-size="10.7" text-anchor="end" font-weight="normal" font-style="normal" fill="#111" >SBI-115</text>
<text x="237.2" y="283.4" font-size="10.7" text-anchor="end" font-weight="normal" font-style="normal" fill="#111" >DCA (30 μM)</text>
<text x="236.7" y="295" font-size="10.7" text-anchor="end" font-weight="normal" font-style="normal" fill="#111" ><tspan font-style="italic">S. aureus</tspan></text>
<line x1="248.1" y1="270.4" x2="251.9" y2="270.4" stroke="#1a1a1a" stroke-width="1.25"/>
<line x1="270.9" y1="270.4" x2="274.7" y2="270.4" stroke="#1a1a1a" stroke-width="1.25"/>
<line x1="293" y1="270.4" x2="298.2" y2="270.4" stroke="#1a1a1a" stroke-width="1.1"/>
<line x1="295.6" y1="267.8" x2="295.6" y2="273" stroke="#1a1a1a" stroke-width="1.1"/>
<line x1="316" y1="270.4" x2="321.2" y2="270.4" stroke="#1a1a1a" stroke-width="1.1"/>
<line x1="318.6" y1="267.8" x2="318.6" y2="273" stroke="#1a1a1a" stroke-width="1.1"/>
<line x1="248.1" y1="281.4" x2="251.9" y2="281.4" stroke="#1a1a1a" stroke-width="1.25"/>
<line x1="270.2" y1="281.4" x2="275.4" y2="281.4" stroke="#1a1a1a" stroke-width="1.1"/>
<line x1="272.8" y1="278.8" x2="272.8" y2="284" stroke="#1a1a1a" stroke-width="1.1"/>
<line x1="293.7" y1="281.4" x2="297.5" y2="281.4" stroke="#1a1a1a" stroke-width="1.25"/>
<line x1="316" y1="281.4" x2="321.2" y2="281.4" stroke="#1a1a1a" stroke-width="1.1"/>
<line x1="318.6" y1="278.8" x2="318.6" y2="284" stroke="#1a1a1a" stroke-width="1.1"/>
<line x1="247.4" y1="292.9" x2="252.6" y2="292.9" stroke="#1a1a1a" stroke-width="1.1"/>
<line x1="250" y1="290.3" x2="250" y2="295.5" stroke="#1a1a1a" stroke-width="1.1"/>
<line x1="270.2" y1="292.9" x2="275.4" y2="292.9" stroke="#1a1a1a" stroke-width="1.1"/>
<line x1="272.8" y1="290.3" x2="272.8" y2="295.5" stroke="#1a1a1a" stroke-width="1.1"/>
<line x1="293" y1="292.9" x2="298.2" y2="292.9" stroke="#1a1a1a" stroke-width="1.1"/>
<line x1="295.6" y1="290.3" x2="295.6" y2="295.5" stroke="#1a1a1a" stroke-width="1.1"/>
<line x1="316" y1="292.9" x2="321.2" y2="292.9" stroke="#1a1a1a" stroke-width="1.1"/>
<line x1="318.6" y1="290.3" x2="318.6" y2="295.5" stroke="#1a1a1a" stroke-width="1.1"/>
<line x1="249.7" y1="204.5" x2="273.1" y2="204.5" stroke="#2a2a2a" stroke-width="1.3"/>
<path d="M261.4,195.05V200.35M259.11,196.38L263.69,199.02M259.11,199.02L263.69,196.38" stroke="#111" stroke-width="1.15" fill="none"/>
<circle cx="261.4" cy="197.7" r="1.2" fill="#111"/>
<line x1="274.2" y1="181.8" x2="317.6" y2="181.8" stroke="#2a2a2a" stroke-width="1.3"/>
<text x="295.9" y="177.1" font-size="8.0" text-anchor="middle" font-weight="normal" font-style="normal" fill="#222" >p=0.0546</text>
<line x1="295.3" y1="195.4" x2="318.8" y2="195.4" stroke="#2a2a2a" stroke-width="1.3"/>
<text x="307.05" y="190.7" font-size="8.0" text-anchor="middle" font-weight="normal" font-style="normal" fill="#222" >ns</text>
<line x1="401.2" y1="180" x2="401.2" y2="258.3" stroke="#1a1a1a" stroke-width="1.3"/>
<line x1="400.6" y1="257.7" x2="497.7" y2="257.7" stroke="#1a1a1a" stroke-width="1.3"/>
<line x1="397" y1="257.7" x2="401.2" y2="257.7" stroke="#222" stroke-width="1.15"/>
<text x="395.6" y="261.3" font-size="10.8" text-anchor="end" font-weight="normal" font-style="normal" fill="#222" >0.0</text>
<line x1="397" y1="238.4" x2="401.2" y2="238.4" stroke="#222" stroke-width="1.15"/>
<text x="395.6" y="242" font-size="10.8" text-anchor="end" font-weight="normal" font-style="normal" fill="#222" >0.5</text>
<line x1="397" y1="219.1" x2="401.2" y2="219.1" stroke="#222" stroke-width="1.15"/>
<text x="395.6" y="222.7" font-size="10.8" text-anchor="end" font-weight="normal" font-style="normal" fill="#222" >1.0</text>
<line x1="397" y1="199.8" x2="401.2" y2="199.8" stroke="#222" stroke-width="1.15"/>
<text x="395.6" y="203.4" font-size="10.8" text-anchor="end" font-weight="normal" font-style="normal" fill="#222" >1.5</text>
<line x1="397" y1="180.5" x2="401.2" y2="180.5" stroke="#222" stroke-width="1.15"/>
<text x="395.6" y="184.1" font-size="10.8" text-anchor="end" font-weight="normal" font-style="normal" fill="#222" >2.0</text>
<line x1="415.8" y1="219.1" x2="415.8" y2="213.7" stroke="#555" stroke-width="0.95"/>
<line x1="412.3" y1="213.7" x2="419.3" y2="213.7" stroke="#555" stroke-width="1.0"/>
<rect x="408.4" y="219.1" width="14.8" height="38.6" fill="#4E0036" stroke="#333" stroke-width="0.8"/>
<line x1="415.8" y1="257.7" x2="415.8" y2="262.2" stroke="#222" stroke-width="1.1"/>
<line x1="438.8" y1="243.42" x2="438.8" y2="240.72" stroke="#555" stroke-width="0.95"/>
<line x1="435.3" y1="240.72" x2="442.3" y2="240.72" stroke="#555" stroke-width="1.0"/>
<rect x="431.4" y="243.42" width="14.8" height="14.28" fill="#B77FA6" stroke="#333" stroke-width="0.8"/>
<line x1="438.8" y1="257.7" x2="438.8" y2="262.2" stroke="#222" stroke-width="1.1"/>
<line x1="461.6" y1="213.31" x2="461.6" y2="199.8" stroke="#555" stroke-width="0.95"/>
<line x1="458.1" y1="199.8" x2="465.1" y2="199.8" stroke="#555" stroke-width="1.0"/>
<rect x="454.2" y="213.31" width="14.8" height="44.39" fill="#71305E" stroke="#333" stroke-width="0.8"/>
<line x1="461.6" y1="257.7" x2="461.6" y2="262.2" stroke="#222" stroke-width="1.1"/>
<line x1="484.6" y1="221.8" x2="484.6" y2="218.33" stroke="#555" stroke-width="0.95"/>
<line x1="481.1" y1="218.33" x2="488.1" y2="218.33" stroke="#555" stroke-width="1.0"/>
<rect x="477.2" y="221.8" width="14.8" height="35.9" fill="#8F5783" stroke="#333" stroke-width="0.8"/>
<line x1="484.6" y1="257.7" x2="484.6" y2="262.2" stroke="#222" stroke-width="1.1"/>
<text x="339.5" y="166.6" font-size="17.3" text-anchor="start" font-weight="bold" font-style="normal" fill="#000" >G</text>
<text transform="translate(361.5,217.5) rotate(-90)" x="0" y="0" font-size="10.7" text-anchor="middle" fill="#111">Relative IL-6</text>
<text transform="translate(375.1,217.5) rotate(-90)" x="0" y="0" font-size="10.7" text-anchor="middle" fill="#111">expression (fold)</text>
<text x="402" y="272.3" font-size="10.7" text-anchor="end" font-weight="normal" font-style="normal" fill="#111" >SBI-115</text>
<text x="403.1" y="283.1" font-size="10.7" text-anchor="end" font-weight="normal" font-style="normal" fill="#111" >DCA (30 μM)</text>
<text x="402.6" y="294.7" font-size="10.7" text-anchor="end" font-weight="normal" font-style="normal" fill="#111" ><tspan font-style="italic">S. aureus</tspan></text>
<line x1="413.9" y1="270.1" x2="417.7" y2="270.1" stroke="#1a1a1a" stroke-width="1.25"/>
<line x1="436.9" y1="270.1" x2="440.7" y2="270.1" stroke="#1a1a1a" stroke-width="1.25"/>
<line x1="459" y1="270.1" x2="464.2" y2="270.1" stroke="#1a1a1a" stroke-width="1.1"/>
<line x1="461.6" y1="267.5" x2="461.6" y2="272.7" stroke="#1a1a1a" stroke-width="1.1"/>
<line x1="482" y1="270.1" x2="487.2" y2="270.1" stroke="#1a1a1a" stroke-width="1.1"/>
<line x1="484.6" y1="267.5" x2="484.6" y2="272.7" stroke="#1a1a1a" stroke-width="1.1"/>
<line x1="413.9" y1="281.1" x2="417.7" y2="281.1" stroke="#1a1a1a" stroke-width="1.25"/>
<line x1="436.2" y1="281.1" x2="441.4" y2="281.1" stroke="#1a1a1a" stroke-width="1.1"/>
<line x1="438.8" y1="278.5" x2="438.8" y2="283.7" stroke="#1a1a1a" stroke-width="1.1"/>
<line x1="459.7" y1="281.1" x2="463.5" y2="281.1" stroke="#1a1a1a" stroke-width="1.25"/>
<line x1="482" y1="281.1" x2="487.2" y2="281.1" stroke="#1a1a1a" stroke-width="1.1"/>
<line x1="484.6" y1="278.5" x2="484.6" y2="283.7" stroke="#1a1a1a" stroke-width="1.1"/>
<line x1="413.2" y1="292.3" x2="418.4" y2="292.3" stroke="#1a1a1a" stroke-width="1.1"/>
<line x1="415.8" y1="289.7" x2="415.8" y2="294.9" stroke="#1a1a1a" stroke-width="1.1"/>
<line x1="436.2" y1="292.3" x2="441.4" y2="292.3" stroke="#1a1a1a" stroke-width="1.1"/>
<line x1="438.8" y1="289.7" x2="438.8" y2="294.9" stroke="#1a1a1a" stroke-width="1.1"/>
<line x1="459" y1="292.3" x2="464.2" y2="292.3" stroke="#1a1a1a" stroke-width="1.1"/>
<line x1="461.6" y1="289.7" x2="461.6" y2="294.9" stroke="#1a1a1a" stroke-width="1.1"/>
<line x1="482" y1="292.3" x2="487.2" y2="292.3" stroke="#1a1a1a" stroke-width="1.1"/>
<line x1="484.6" y1="289.7" x2="484.6" y2="294.9" stroke="#1a1a1a" stroke-width="1.1"/>
<line x1="415.4" y1="206.8" x2="438.9" y2="206.8" stroke="#2a2a2a" stroke-width="1.3"/>
<path d="M427.15,197.35V202.65M424.86,198.68L429.44,201.32M424.86,201.32L429.44,198.68" stroke="#111" stroke-width="1.15" fill="none"/>
<circle cx="427.15" cy="200" r="1.2" fill="#111"/>
<line x1="440.1" y1="181.8" x2="483.8" y2="181.8" stroke="#2a2a2a" stroke-width="1.3"/>
<path d="M461.95,172.35V177.65M459.66,173.68L464.24,176.32M459.66,176.32L464.24,173.68" stroke="#111" stroke-width="1.15" fill="none"/>
<circle cx="461.95" cy="175" r="1.2" fill="#111"/>
<line x1="461.1" y1="195.3" x2="485" y2="195.3" stroke="#2a2a2a" stroke-width="1.3"/>
<text x="473.05" y="190.6" font-size="8.0" text-anchor="middle" font-weight="normal" font-style="normal" fill="#222" >ns</text>
<line x1="62.3" y1="331.3" x2="62.3" y2="407.9" stroke="#1a1a1a" stroke-width="1.3"/>
<line x1="61.7" y1="407.3" x2="158.8" y2="407.3" stroke="#1a1a1a" stroke-width="1.3"/>
<line x1="58.1" y1="407.3" x2="62.3" y2="407.3" stroke="#222" stroke-width="1.15"/>
<text x="57.4" y="410.2" font-size="10.8" text-anchor="end" font-weight="normal" font-style="normal" fill="#222" >0.0</text>
<line x1="58.1" y1="382.13" x2="62.3" y2="382.13" stroke="#222" stroke-width="1.15"/>
<text x="57.4" y="385.03" font-size="10.8" text-anchor="end" font-weight="normal" font-style="normal" fill="#222" >0.5</text>
<line x1="58.1" y1="356.97" x2="62.3" y2="356.97" stroke="#222" stroke-width="1.15"/>
<text x="57.4" y="359.87" font-size="10.8" text-anchor="end" font-weight="normal" font-style="normal" fill="#222" >1.0</text>
<line x1="58.1" y1="331.8" x2="62.3" y2="331.8" stroke="#222" stroke-width="1.15"/>
<text x="57.4" y="334.7" font-size="10.8" text-anchor="end" font-weight="normal" font-style="normal" fill="#222" >1.5</text>
<line x1="77.3" y1="356.97" x2="77.3" y2="349.42" stroke="#555" stroke-width="0.95"/>
<line x1="73.8" y1="349.42" x2="80.8" y2="349.42" stroke="#555" stroke-width="1.0"/>
<rect x="70.1" y="356.97" width="14.4" height="50.33" fill="#4E0036" stroke="#333" stroke-width="0.8"/>
<line x1="77.3" y1="407.3" x2="77.3" y2="411.8" stroke="#222" stroke-width="1.1"/>
<line x1="99.8" y1="387.67" x2="99.8" y2="380.62" stroke="#555" stroke-width="0.95"/>
<line x1="96.3" y1="380.62" x2="103.3" y2="380.62" stroke="#555" stroke-width="1.0"/>
<rect x="92.6" y="387.67" width="14.4" height="19.63" fill="#B77FA6" stroke="#333" stroke-width="0.8"/>
<line x1="99.8" y1="407.3" x2="99.8" y2="411.8" stroke="#222" stroke-width="1.1"/>
<line x1="122.1" y1="363.01" x2="122.1" y2="357.97" stroke="#555" stroke-width="0.95"/>
<line x1="118.6" y1="357.97" x2="125.6" y2="357.97" stroke="#555" stroke-width="1.0"/>
<rect x="114.9" y="363.01" width="14.4" height="44.29" fill="#71305E" stroke="#333" stroke-width="0.8"/>
<line x1="122.1" y1="407.3" x2="122.1" y2="411.8" stroke="#222" stroke-width="1.1"/>
<line x1="144.4" y1="382.13" x2="144.4" y2="379.62" stroke="#555" stroke-width="0.95"/>
<line x1="140.9" y1="379.62" x2="147.9" y2="379.62" stroke="#555" stroke-width="1.0"/>
<rect x="137.2" y="382.13" width="14.4" height="25.17" fill="#8F5783" stroke="#333" stroke-width="0.8"/>
<line x1="144.4" y1="407.3" x2="144.4" y2="411.8" stroke="#222" stroke-width="1.1"/>
<text x="1.6" y="321.2" font-size="17.3" text-anchor="start" font-weight="bold" font-style="normal" fill="#000" >H</text>
<text transform="translate(24.6,367.5) rotate(-90)" x="0" y="0" font-size="10.4" text-anchor="middle" fill="#111">Relative TNF-α</text>
<text transform="translate(38.5,367.5) rotate(-90)" x="0" y="0" font-size="10.4" text-anchor="middle" fill="#111">expression (fold)</text>
<text x="63.2" y="422.4" font-size="10.5" text-anchor="end" font-weight="normal" font-style="normal" fill="#111" >siRNA-neg</text>
<text x="63.2" y="434.8" font-size="10.5" text-anchor="end" font-weight="normal" font-style="normal" fill="#111" >siRNA-TGR5</text>
<text x="64.9" y="446" font-size="10.5" text-anchor="end" font-weight="normal" font-style="normal" fill="#111" >DCA (30 μM)</text>
<text x="64.5" y="456.9" font-size="10.5" text-anchor="end" font-weight="normal" font-style="normal" fill="#111" ><tspan font-style="italic">S. aureus</tspan></text>
<line x1="75.4" y1="420.9" x2="79.2" y2="420.9" stroke="#1a1a1a" stroke-width="1.25"/>
<line x1="97.9" y1="420.9" x2="101.7" y2="420.9" stroke="#1a1a1a" stroke-width="1.25"/>
<line x1="120.2" y1="420.9" x2="124" y2="420.9" stroke="#1a1a1a" stroke-width="1.25"/>
<line x1="141.8" y1="420.9" x2="147" y2="420.9" stroke="#1a1a1a" stroke-width="1.1"/>
<line x1="144.4" y1="418.3" x2="144.4" y2="423.5" stroke="#1a1a1a" stroke-width="1.1"/>
<line x1="75.4" y1="433.1" x2="79.2" y2="433.1" stroke="#1a1a1a" stroke-width="1.25"/>
<line x1="97.9" y1="433.1" x2="101.7" y2="433.1" stroke="#1a1a1a" stroke-width="1.25"/>
<line x1="119.5" y1="433.1" x2="124.7" y2="433.1" stroke="#1a1a1a" stroke-width="1.1"/>
<line x1="122.1" y1="430.5" x2="122.1" y2="435.7" stroke="#1a1a1a" stroke-width="1.1"/>
<line x1="142.5" y1="433.1" x2="146.3" y2="433.1" stroke="#1a1a1a" stroke-width="1.25"/>
<line x1="75.4" y1="443.9" x2="79.2" y2="443.9" stroke="#1a1a1a" stroke-width="1.25"/>
<line x1="97.2" y1="443.9" x2="102.4" y2="443.9" stroke="#1a1a1a" stroke-width="1.1"/>
<line x1="99.8" y1="441.3" x2="99.8" y2="446.5" stroke="#1a1a1a" stroke-width="1.1"/>
<line x1="119.5" y1="443.9" x2="124.7" y2="443.9" stroke="#1a1a1a" stroke-width="1.1"/>
<line x1="122.1" y1="441.3" x2="122.1" y2="446.5" stroke="#1a1a1a" stroke-width="1.1"/>
<line x1="141.8" y1="443.9" x2="147" y2="443.9" stroke="#1a1a1a" stroke-width="1.1"/>
<line x1="144.4" y1="441.3" x2="144.4" y2="446.5" stroke="#1a1a1a" stroke-width="1.1"/>
<line x1="74.7" y1="455.3" x2="79.9" y2="455.3" stroke="#1a1a1a" stroke-width="1.1"/>
<line x1="77.3" y1="452.7" x2="77.3" y2="457.9" stroke="#1a1a1a" stroke-width="1.1"/>
<line x1="97.2" y1="455.3" x2="102.4" y2="455.3" stroke="#1a1a1a" stroke-width="1.1"/>
<line x1="99.8" y1="452.7" x2="99.8" y2="457.9" stroke="#1a1a1a" stroke-width="1.1"/>
<line x1="119.5" y1="455.3" x2="124.7" y2="455.3" stroke="#1a1a1a" stroke-width="1.1"/>
<line x1="122.1" y1="452.7" x2="122.1" y2="457.9" stroke="#1a1a1a" stroke-width="1.1"/>
<line x1="141.8" y1="455.3" x2="147" y2="455.3" stroke="#1a1a1a" stroke-width="1.1"/>
<line x1="144.4" y1="452.7" x2="144.4" y2="457.9" stroke="#1a1a1a" stroke-width="1.1"/>
<line x1="77.1" y1="328.8" x2="123.7" y2="328.8" stroke="#2a2a2a" stroke-width="1.3"/>
<text x="100.4" y="324.3" font-size="8.0" text-anchor="middle" font-weight="normal" font-style="normal" fill="#222" >ns</text>
<line x1="77.1" y1="346.1" x2="98.6" y2="346.1" stroke="#2a2a2a" stroke-width="1.3"/>
<path d="M81.85,337.05V342.35M79.56,338.38L84.14,341.03M79.56,341.03L84.14,338.38" stroke="#111" stroke-width="1.15" fill="none"/>
<circle cx="81.85" cy="339.7" r="1.2" fill="#111"/>
<path d="M87.85,337.05V342.35M85.56,338.38L90.14,341.03M85.56,341.03L90.14,338.38" stroke="#111" stroke-width="1.15" fill="none"/>
<circle cx="87.85" cy="339.7" r="1.2" fill="#111"/>
<path d="M93.85,337.05V342.35M91.56,338.38L96.14,341.03M91.56,341.03L96.14,338.38" stroke="#111" stroke-width="1.15" fill="none"/>
<circle cx="93.85" cy="339.7" r="1.2" fill="#111"/>
<line x1="104.3" y1="341.3" x2="144.9" y2="341.3" stroke="#2a2a2a" stroke-width="1.3"/>
<text x="124.6" y="336.8" font-size="8.0" text-anchor="middle" font-weight="normal" font-style="normal" fill="#222" >ns</text>
<line x1="102.1" y1="353.4" x2="119.8" y2="353.4" stroke="#2a2a2a" stroke-width="1.3"/>
<path d="M107.95,344.35V349.65M105.66,345.68L110.24,348.32M105.66,348.32L110.24,345.68" stroke="#111" stroke-width="1.15" fill="none"/>
<circle cx="107.95" cy="347" r="1.2" fill="#111"/>
<path d="M113.95,344.35V349.65M111.66,345.68L116.24,348.32M111.66,348.32L116.24,345.68" stroke="#111" stroke-width="1.15" fill="none"/>
<circle cx="113.95" cy="347" r="1.2" fill="#111"/>
<line x1="122.2" y1="353.4" x2="144.9" y2="353.4" stroke="#2a2a2a" stroke-width="1.3"/>
<path d="M133.55,344.35V349.65M131.26,345.68L135.84,348.32M131.26,348.32L135.84,345.68" stroke="#111" stroke-width="1.15" fill="none"/>
<circle cx="133.55" cy="347" r="1.2" fill="#111"/>
<line x1="233.2" y1="333.5" x2="233.2" y2="409.4" stroke="#1a1a1a" stroke-width="1.3"/>
<line x1="232.6" y1="408.8" x2="328.8" y2="408.8" stroke="#1a1a1a" stroke-width="1.3"/>
<line x1="229" y1="408.8" x2="233.2" y2="408.8" stroke="#222" stroke-width="1.15"/>
<text x="228.3" y="411.7" font-size="10.8" text-anchor="end" font-weight="normal" font-style="normal" fill="#222" >0.0</text>
<line x1="229" y1="383.87" x2="233.2" y2="383.87" stroke="#222" stroke-width="1.15"/>
<text x="228.3" y="386.77" font-size="10.8" text-anchor="end" font-weight="normal" font-style="normal" fill="#222" >0.5</text>
<line x1="229" y1="358.93" x2="233.2" y2="358.93" stroke="#222" stroke-width="1.15"/>
<text x="228.3" y="361.83" font-size="10.8" text-anchor="end" font-weight="normal" font-style="normal" fill="#222" >1.0</text>
<line x1="229" y1="334" x2="233.2" y2="334" stroke="#222" stroke-width="1.15"/>
<text x="228.3" y="336.9" font-size="10.8" text-anchor="end" font-weight="normal" font-style="normal" fill="#222" >1.5</text>
<line x1="247.9" y1="358.93" x2="247.9" y2="346.47" stroke="#555" stroke-width="0.95"/>
<line x1="244.4" y1="346.47" x2="251.4" y2="346.47" stroke="#555" stroke-width="1.0"/>
<rect x="240.7" y="358.93" width="14.4" height="49.87" fill="#4E0036" stroke="#333" stroke-width="0.8"/>
<line x1="247.9" y1="408.8" x2="247.9" y2="413.3" stroke="#222" stroke-width="1.1"/>
<line x1="270.2" y1="386.86" x2="270.2" y2="383.87" stroke="#555" stroke-width="0.95"/>
<line x1="266.7" y1="383.87" x2="273.7" y2="383.87" stroke="#555" stroke-width="1.0"/>
<rect x="263" y="386.86" width="14.4" height="21.94" fill="#B77FA6" stroke="#333" stroke-width="0.8"/>
<line x1="270.2" y1="408.8" x2="270.2" y2="413.3" stroke="#222" stroke-width="1.1"/>
<line x1="292.4" y1="361.93" x2="292.4" y2="359.93" stroke="#555" stroke-width="0.95"/>
<line x1="288.9" y1="359.93" x2="295.9" y2="359.93" stroke="#555" stroke-width="1.0"/>
<rect x="285.2" y="361.93" width="14.4" height="46.87" fill="#71305E" stroke="#333" stroke-width="0.8"/>
<line x1="292.4" y1="408.8" x2="292.4" y2="413.3" stroke="#222" stroke-width="1.1"/>
<line x1="314.5" y1="385.86" x2="314.5" y2="381.37" stroke="#555" stroke-width="0.95"/>
<line x1="311" y1="381.37" x2="318" y2="381.37" stroke="#555" stroke-width="1.0"/>
<rect x="307.3" y="385.86" width="14.4" height="22.94" fill="#8F5783" stroke="#333" stroke-width="0.8"/>
<line x1="314.5" y1="408.8" x2="314.5" y2="413.3" stroke="#222" stroke-width="1.1"/>
<text x="168.8" y="321.2" font-size="17.3" text-anchor="start" font-weight="bold" font-style="normal" fill="#000" >I</text>
<text transform="translate(195.2,369.5) rotate(-90)" x="0" y="0" font-size="10.4" text-anchor="middle" fill="#111">Relative IL-1β</text>
<text transform="translate(209.2,369.5) rotate(-90)" x="0" y="0" font-size="10.4" text-anchor="middle" fill="#111">expression (fold)</text>
<text x="234.1" y="423.9" font-size="10.5" text-anchor="end" font-weight="normal" font-style="normal" fill="#111" >siRNA-neg</text>
<text x="234.1" y="436.3" font-size="10.5" text-anchor="end" font-weight="normal" font-style="normal" fill="#111" >siRNA-TGR5</text>
<text x="235.8" y="447.2" font-size="10.5" text-anchor="end" font-weight="normal" font-style="normal" fill="#111" >DCA (30 μM)</text>
<text x="235.4" y="458.1" font-size="10.5" text-anchor="end" font-weight="normal" font-style="normal" fill="#111" ><tspan font-style="italic">S. aureus</tspan></text>
<line x1="246" y1="422.4" x2="249.8" y2="422.4" stroke="#1a1a1a" stroke-width="1.25"/>
<line x1="268.3" y1="422.4" x2="272.1" y2="422.4" stroke="#1a1a1a" stroke-width="1.25"/>
<line x1="290.5" y1="422.4" x2="294.3" y2="422.4" stroke="#1a1a1a" stroke-width="1.25"/>
<line x1="311.9" y1="422.4" x2="317.1" y2="422.4" stroke="#1a1a1a" stroke-width="1.1"/>
<line x1="314.5" y1="419.8" x2="314.5" y2="425" stroke="#1a1a1a" stroke-width="1.1"/>
<line x1="246" y1="434.8" x2="249.8" y2="434.8" stroke="#1a1a1a" stroke-width="1.25"/>
<line x1="268.3" y1="434.8" x2="272.1" y2="434.8" stroke="#1a1a1a" stroke-width="1.25"/>
<line x1="289.8" y1="434.8" x2="295" y2="434.8" stroke="#1a1a1a" stroke-width="1.1"/>
<line x1="292.4" y1="432.2" x2="292.4" y2="437.4" stroke="#1a1a1a" stroke-width="1.1"/>
<line x1="312.6" y1="434.8" x2="316.4" y2="434.8" stroke="#1a1a1a" stroke-width="1.25"/>
<line x1="246" y1="445.7" x2="249.8" y2="445.7" stroke="#1a1a1a" stroke-width="1.25"/>
<line x1="267.6" y1="445.7" x2="272.8" y2="445.7" stroke="#1a1a1a" stroke-width="1.1"/>
<line x1="270.2" y1="443.1" x2="270.2" y2="448.3" stroke="#1a1a1a" stroke-width="1.1"/>
<line x1="289.8" y1="445.7" x2="295" y2="445.7" stroke="#1a1a1a" stroke-width="1.1"/>
<line x1="292.4" y1="443.1" x2="292.4" y2="448.3" stroke="#1a1a1a" stroke-width="1.1"/>
<line x1="311.9" y1="445.7" x2="317.1" y2="445.7" stroke="#1a1a1a" stroke-width="1.1"/>
<line x1="314.5" y1="443.1" x2="314.5" y2="448.3" stroke="#1a1a1a" stroke-width="1.1"/>
<line x1="245.3" y1="457.1" x2="250.5" y2="457.1" stroke="#1a1a1a" stroke-width="1.1"/>
<line x1="247.9" y1="454.5" x2="247.9" y2="459.7" stroke="#1a1a1a" stroke-width="1.1"/>
<line x1="267.6" y1="457.1" x2="272.8" y2="457.1" stroke="#1a1a1a" stroke-width="1.1"/>
<line x1="270.2" y1="454.5" x2="270.2" y2="459.7" stroke="#1a1a1a" stroke-width="1.1"/>
<line x1="289.8" y1="457.1" x2="295" y2="457.1" stroke="#1a1a1a" stroke-width="1.1"/>
<line x1="292.4" y1="454.5" x2="292.4" y2="459.7" stroke="#1a1a1a" stroke-width="1.1"/>
<line x1="311.9" y1="457.1" x2="317.1" y2="457.1" stroke="#1a1a1a" stroke-width="1.1"/>
<line x1="314.5" y1="454.5" x2="314.5" y2="459.7" stroke="#1a1a1a" stroke-width="1.1"/>
<line x1="247.4" y1="330.4" x2="294" y2="330.4" stroke="#2a2a2a" stroke-width="1.3"/>
<text x="270.7" y="325.9" font-size="8.0" text-anchor="middle" font-weight="normal" font-style="normal" fill="#222" >ns</text>
<line x1="247.4" y1="342.5" x2="269" y2="342.5" stroke="#2a2a2a" stroke-width="1.3"/>
<path d="M255.2,333.45V338.75M252.91,334.78L257.49,337.43M252.91,337.43L257.49,334.78" stroke="#111" stroke-width="1.15" fill="none"/>
<circle cx="255.2" cy="336.1" r="1.2" fill="#111"/>
<path d="M261.2,333.45V338.75M258.91,334.78L263.49,337.43M258.91,337.43L263.49,334.78" stroke="#111" stroke-width="1.15" fill="none"/>
<circle cx="261.2" cy="336.1" r="1.2" fill="#111"/>
<line x1="274.6" y1="343.3" x2="315.2" y2="343.3" stroke="#2a2a2a" stroke-width="1.3"/>
<text x="294.9" y="338.8" font-size="8.0" text-anchor="middle" font-weight="normal" font-style="normal" fill="#222" >ns</text>
<line x1="272" y1="355.2" x2="290.2" y2="355.2" stroke="#2a2a2a" stroke-width="1.3"/>
<path d="M278.1,346.15V351.45M275.81,347.48L280.39,350.12M275.81,350.12L280.39,347.48" stroke="#111" stroke-width="1.15" fill="none"/>
<circle cx="278.1" cy="348.8" r="1.2" fill="#111"/>
<path d="M284.1,346.15V351.45M281.81,347.48L286.39,350.12M281.81,350.12L286.39,347.48" stroke="#111" stroke-width="1.15" fill="none"/>
<circle cx="284.1" cy="348.8" r="1.2" fill="#111"/>
<line x1="292.2" y1="355.2" x2="315.2" y2="355.2" stroke="#2a2a2a" stroke-width="1.3"/>
<path d="M300.7,346.15V351.45M298.41,347.48L302.99,350.12M298.41,350.12L302.99,347.48" stroke="#111" stroke-width="1.15" fill="none"/>
<circle cx="300.7" cy="348.8" r="1.2" fill="#111"/>
<path d="M306.7,346.15V351.45M304.41,347.48L308.99,350.12M304.41,350.12L308.99,347.48" stroke="#111" stroke-width="1.15" fill="none"/>
<circle cx="306.7" cy="348.8" r="1.2" fill="#111"/>
<line x1="399.6" y1="334" x2="399.6" y2="410.2" stroke="#1a1a1a" stroke-width="1.3"/>
<line x1="399" y1="409.6" x2="495.8" y2="409.6" stroke="#1a1a1a" stroke-width="1.3"/>
<line x1="395.4" y1="409.6" x2="399.6" y2="409.6" stroke="#222" stroke-width="1.15"/>
<text x="394.7" y="412.5" font-size="10.8" text-anchor="end" font-weight="normal" font-style="normal" fill="#222" >0.0</text>
<line x1="395.4" y1="384.57" x2="399.6" y2="384.57" stroke="#222" stroke-width="1.15"/>
<text x="394.7" y="387.47" font-size="10.8" text-anchor="end" font-weight="normal" font-style="normal" fill="#222" >0.5</text>
<line x1="395.4" y1="359.53" x2="399.6" y2="359.53" stroke="#222" stroke-width="1.15"/>
<text x="394.7" y="362.43" font-size="10.8" text-anchor="end" font-weight="normal" font-style="normal" fill="#222" >1.0</text>
<line x1="395.4" y1="334.5" x2="399.6" y2="334.5" stroke="#222" stroke-width="1.15"/>
<text x="394.7" y="337.4" font-size="10.8" text-anchor="end" font-weight="normal" font-style="normal" fill="#222" >1.5</text>
<line x1="413.8" y1="359.53" x2="413.8" y2="349.52" stroke="#555" stroke-width="0.95"/>
<line x1="410.3" y1="349.52" x2="417.3" y2="349.52" stroke="#555" stroke-width="1.0"/>
<rect x="406.6" y="359.53" width="14.4" height="50.07" fill="#4E0036" stroke="#333" stroke-width="0.8"/>
<line x1="413.8" y1="409.6" x2="413.8" y2="414.1" stroke="#222" stroke-width="1.1"/>
<line x1="436.1" y1="387.07" x2="436.1" y2="381.06" stroke="#555" stroke-width="0.95"/>
<line x1="432.6" y1="381.06" x2="439.6" y2="381.06" stroke="#555" stroke-width="1.0"/>
<rect x="428.9" y="387.07" width="14.4" height="22.53" fill="#B77FA6" stroke="#333" stroke-width="0.8"/>
<line x1="436.1" y1="409.6" x2="436.1" y2="414.1" stroke="#222" stroke-width="1.1"/>
<line x1="458.2" y1="361.04" x2="458.2" y2="357.03" stroke="#555" stroke-width="0.95"/>
<line x1="454.7" y1="357.03" x2="461.7" y2="357.03" stroke="#555" stroke-width="1.0"/>
<rect x="451" y="361.04" width="14.4" height="48.56" fill="#71305E" stroke="#333" stroke-width="0.8"/>
<line x1="458.2" y1="409.6" x2="458.2" y2="414.1" stroke="#222" stroke-width="1.1"/>
<line x1="480.3" y1="383.06" x2="480.3" y2="379.56" stroke="#555" stroke-width="0.95"/>
<line x1="476.8" y1="379.56" x2="483.8" y2="379.56" stroke="#555" stroke-width="1.0"/>
<rect x="473.1" y="383.06" width="14.4" height="26.54" fill="#8F5783" stroke="#333" stroke-width="0.8"/>
<line x1="480.3" y1="409.6" x2="480.3" y2="414.1" stroke="#222" stroke-width="1.1"/>
<text x="338.8" y="322.7" font-size="17.3" text-anchor="start" font-weight="bold" font-style="normal" fill="#000" >J</text>
<text transform="translate(360.3,370.8) rotate(-90)" x="0" y="0" font-size="10.4" text-anchor="middle" fill="#111">Relative IL-6</text>
<text transform="translate(374.5,370.8) rotate(-90)" x="0" y="0" font-size="10.4" text-anchor="middle" fill="#111">expression (fold)</text>
<text x="399.4" y="424.6" font-size="10.5" text-anchor="end" font-weight="normal" font-style="normal" fill="#111" >siRNA-neg</text>
<text x="399.4" y="437" font-size="10.5" text-anchor="end" font-weight="normal" font-style="normal" fill="#111" >siRNA-TGR5</text>
<text x="401.1" y="447.8" font-size="10.5" text-anchor="end" font-weight="normal" font-style="normal" fill="#111" >DCA (30 μM)</text>
<text x="400.7" y="459" font-size="10.5" text-anchor="end" font-weight="normal" font-style="normal" fill="#111" ><tspan font-style="italic">S. aureus</tspan></text>
<line x1="411.9" y1="423" x2="415.7" y2="423" stroke="#1a1a1a" stroke-width="1.25"/>
<line x1="434.2" y1="423" x2="438" y2="423" stroke="#1a1a1a" stroke-width="1.25"/>
<line x1="456.3" y1="423" x2="460.1" y2="423" stroke="#1a1a1a" stroke-width="1.25"/>
<line x1="477.7" y1="423" x2="482.9" y2="423" stroke="#1a1a1a" stroke-width="1.1"/>
<line x1="480.3" y1="420.4" x2="480.3" y2="425.6" stroke="#1a1a1a" stroke-width="1.1"/>
<line x1="411.9" y1="435.7" x2="415.7" y2="435.7" stroke="#1a1a1a" stroke-width="1.25"/>
<line x1="434.2" y1="435.7" x2="438" y2="435.7" stroke="#1a1a1a" stroke-width="1.25"/>
<line x1="455.6" y1="435.7" x2="460.8" y2="435.7" stroke="#1a1a1a" stroke-width="1.1"/>
<line x1="458.2" y1="433.1" x2="458.2" y2="438.3" stroke="#1a1a1a" stroke-width="1.1"/>
<line x1="478.4" y1="435.7" x2="482.2" y2="435.7" stroke="#1a1a1a" stroke-width="1.25"/>
<line x1="411.9" y1="446.4" x2="415.7" y2="446.4" stroke="#1a1a1a" stroke-width="1.25"/>
<line x1="433.5" y1="446.4" x2="438.7" y2="446.4" stroke="#1a1a1a" stroke-width="1.1"/>
<line x1="436.1" y1="443.8" x2="436.1" y2="449" stroke="#1a1a1a" stroke-width="1.1"/>
<line x1="455.6" y1="446.4" x2="460.8" y2="446.4" stroke="#1a1a1a" stroke-width="1.1"/>
<line x1="458.2" y1="443.8" x2="458.2" y2="449" stroke="#1a1a1a" stroke-width="1.1"/>
<line x1="477.7" y1="446.4" x2="482.9" y2="446.4" stroke="#1a1a1a" stroke-width="1.1"/>
<line x1="480.3" y1="443.8" x2="480.3" y2="449" stroke="#1a1a1a" stroke-width="1.1"/>
<line x1="411.2" y1="458.1" x2="416.4" y2="458.1" stroke="#1a1a1a" stroke-width="1.1"/>
<line x1="413.8" y1="455.5" x2="413.8" y2="460.7" stroke="#1a1a1a" stroke-width="1.1"/>
<line x1="433.5" y1="458.1" x2="438.7" y2="458.1" stroke="#1a1a1a" stroke-width="1.1"/>
<line x1="436.1" y1="455.5" x2="436.1" y2="460.7" stroke="#1a1a1a" stroke-width="1.1"/>
<line x1="455.6" y1="458.1" x2="460.8" y2="458.1" stroke="#1a1a1a" stroke-width="1.1"/>
<line x1="458.2" y1="455.5" x2="458.2" y2="460.7" stroke="#1a1a1a" stroke-width="1.1"/>
<line x1="477.7" y1="458.1" x2="482.9" y2="458.1" stroke="#1a1a1a" stroke-width="1.1"/>
<line x1="480.3" y1="455.5" x2="480.3" y2="460.7" stroke="#1a1a1a" stroke-width="1.1"/>
<line x1="413.3" y1="331.5" x2="459.8" y2="331.5" stroke="#2a2a2a" stroke-width="1.3"/>
<text x="436.55" y="327" font-size="8.0" text-anchor="middle" font-weight="normal" font-style="normal" fill="#222" >ns</text>
<line x1="413.6" y1="344.3" x2="434.8" y2="344.3" stroke="#2a2a2a" stroke-width="1.3"/>
<path d="M421.2,335.25V340.55M418.91,336.58L423.49,339.23M418.91,339.23L423.49,336.58" stroke="#111" stroke-width="1.15" fill="none"/>
<circle cx="421.2" cy="337.9" r="1.2" fill="#111"/>
<path d="M427.2,335.25V340.55M424.91,336.58L429.49,339.23M424.91,339.23L429.49,336.58" stroke="#111" stroke-width="1.15" fill="none"/>
<circle cx="427.2" cy="337.9" r="1.2" fill="#111"/>
<line x1="440.8" y1="344" x2="480.9" y2="344" stroke="#2a2a2a" stroke-width="1.3"/>
<text x="460.85" y="339.5" font-size="8.0" text-anchor="middle" font-weight="normal" font-style="normal" fill="#222" >ns</text>
<line x1="438.1" y1="354.6" x2="456" y2="354.6" stroke="#2a2a2a" stroke-width="1.3"/>
<path d="M444.05,345.55V350.85M441.76,346.88L446.34,349.53M441.76,349.53L446.34,346.88" stroke="#111" stroke-width="1.15" fill="none"/>
<circle cx="444.05" cy="348.2" r="1.2" fill="#111"/>
<path d="M450.05,345.55V350.85M447.76,346.88L452.34,349.53M447.76,349.53L452.34,346.88" stroke="#111" stroke-width="1.15" fill="none"/>
<circle cx="450.05" cy="348.2" r="1.2" fill="#111"/>
<line x1="458.2" y1="354.6" x2="480.9" y2="354.6" stroke="#2a2a2a" stroke-width="1.3"/>
<path d="M469.55,345.55V350.85M467.26,346.88L471.84,349.53M467.26,349.53L471.84,346.88" stroke="#111" stroke-width="1.15" fill="none"/>
<circle cx="469.55" cy="348.2" r="1.2" fill="#111"/>
</svg></body></html>
